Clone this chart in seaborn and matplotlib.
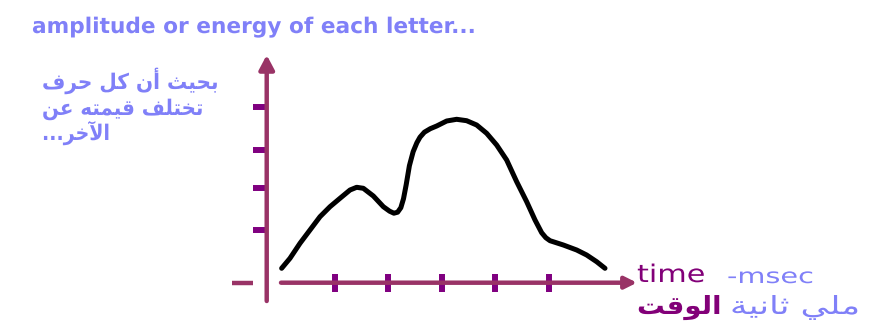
import matplotlib
matplotlib.use("Agg")
import matplotlib.pyplot as plt
import seaborn as sns
from matplotlib import patheffects
from matplotlib.transforms import Affine2D

# ---------------- data ----------------
time_ms = [0.012, 0.168, 0.355, 0.542, 0.729, 0.916, 1.103, 1.290, 1.414, 1.539,
           1.726, 1.913, 2.030, 2.110, 2.180, 2.240, 2.290, 2.340, 2.400, 2.470,
           2.540, 2.598, 2.680, 2.790,
           2.910, 3.097, 3.283, 3.470, 3.657, 3.844, 4.031, 4.218, 4.405, 4.592,
           4.748, 4.872, 4.950, 5.028, 5.277, 5.527, 5.713, 5.900, 6.056]
amplitude = [1.44, 2.44, 3.94, 5.27, 6.60, 7.60, 8.44, 9.27, 9.54, 9.44,
             8.67, 7.60, 7.15, 6.95, 7.05, 7.50, 8.40, 9.80, 11.70, 13.10,
             14.00, 14.55, 15.05, 15.40,
             15.67, 16.17, 16.34, 16.20, 15.77, 14.94, 13.77, 12.27, 10.10, 8.10,
             6.27, 5.00, 4.50, 4.20, 3.77, 3.27, 2.77, 2.10, 1.44]
time_ticks = [1, 2, 3, 4, 5]
amp_ticks = [5.3, 9.5, 13.3, 17.6]

title_text = "amplitude or energy of each letter..."
ar_note_lines = ["بحيث أن كل حرف", "تختلف قيمته عن", "الآخر..."]
x_label_en = "time"
x_unit_en = "-msec"
x_label_ar = "الوقت"
x_unit_ar = "ملي ثانية"

# ---------------- minimal Arabic shaping (contextual forms + RTL order) ----------------
DUAL = {'ب': 0xFE8F, 'ت': 0xFE95, 'ث': 0xFE99, 'ح': 0xFEA1, 'خ': 0xFEA5,
        'ع': 0xFEC9, 'ف': 0xFED1, 'ق': 0xFED5, 'ك': 0xFED9, 'ل': 0xFEDD,
        'م': 0xFEE1, 'ن': 0xFEE5, 'ه': 0xFEE9, 'ي': 0xFEF1}
RIGHT = {'ا': 0xFE8D, 'أ': 0xFE83, 'آ': 0xFE81, 'ة': 0xFE93, 'ر': 0xFEAD, 'و': 0xFEED}
LAMALEF = {'ا': 0xFEFB, 'أ': 0xFEF7, 'آ': 0xFEF5}


def shape_ar(s):
    toks = []
    i = 0
    while i < len(s):
        c = s[i]
        if c == 'ل' and i + 1 < len(s) and s[i + 1] in LAMALEF:
            toks.append(('LA', s[i + 1]))
            i += 2
        else:
            toks.append(('C', c))
            i += 1

    def is_letter(t):
        return t is not None and (t[0] == 'LA' or t[1] in DUAL or t[1] in RIGHT)

    out = []
    for k, t in enumerate(toks):
        prev = toks[k - 1] if k > 0 else None
        nxt = toks[k + 1] if k + 1 < len(toks) else None
        jp = prev is not None and prev[0] == 'C' and prev[1] in DUAL and is_letter(t)
        if t[0] == 'LA':
            out.append(chr(LAMALEF[t[1]] + (1 if jp else 0)))
            continue
        c = t[1]
        if c in DUAL:
            jn = is_letter(nxt)
            off = 3 if (jp and jn) else 1 if jp else 2 if jn else 0
            out.append(chr(DUAL[c] + off))
        elif c in RIGHT:
            out.append(chr(RIGHT[c] + (1 if jp else 0)))
        else:
            out.append(c)
    return ''.join(reversed(out))


class HStretch(patheffects.AbstractPathEffect):
    def __init__(self, sx):
        super().__init__()
        self.sx = sx

    def draw_path(self, renderer, gc, tpath, affine, rgbFace=None):
        renderer.draw_path(gc, tpath, Affine2D().scale(self.sx, 1.0) + affine, rgbFace)


# ---------------- style ----------------
sns.set_style("white")
plt.rcParams['font.family'] = ['DejaVu Sans']

AXIS_C = '#993366'
TICK_C = '#800080'
BLUE_C = '#8080f8'
PURPLE_C = '#820078'

W, H = 870, 331
fig = plt.figure(figsize=(W / 100, H / 100), dpi=100)
fig.patch.set_facecolor('white')
ax = fig.add_axes([0, 0, 1, 1])
ax.set_facecolor('white')

PX_X0, PX_PER_T = 281.0, 53.5
PX_Y0, PX_PER_A = 282.7, 10.0
ax.set_xlim(-PX_X0 / PX_PER_T, (W - PX_X0) / PX_PER_T)
ax.set_ylim((PX_Y0 - H) / PX_PER_A, PX_Y0 / PX_PER_A)

Y_AXIS_T = -0.267
Y_AXIS_SPAN = (-1.83, 22.77)
X_AXIS_SPAN = (0.0, 6.654)
X_STUB = (-0.92, -0.52)

for s in ax.spines.values():
    s.set_visible(False)
ax.spines['bottom'].set_position(('data', 0))
ax.spines['left'].set_position(('data', Y_AXIS_T))

# axes with arrow heads
ax.annotate('', xy=(Y_AXIS_T, Y_AXIS_SPAN[1]), xytext=(Y_AXIS_T, Y_AXIS_SPAN[0]),
            arrowprops=dict(arrowstyle='-|>,head_length=8.5,head_width=4.5', mutation_scale=1,
                            lw=3.2, color=AXIS_C, shrinkA=0, shrinkB=0), zorder=1)
ax.annotate('', xy=(X_AXIS_SPAN[1], 0), xytext=(X_AXIS_SPAN[0], 0),
            arrowprops=dict(arrowstyle='-|>,head_length=7,head_width=3.5', mutation_scale=1,
                            lw=3.2, color=AXIS_C, shrinkA=0, shrinkB=0), zorder=1)
ax.plot(X_STUB, [0, 0], color=AXIS_C, lw=3.2, solid_capstyle='butt', zorder=1)

# ticks
ax.set_xticks(time_ticks)
ax.set_yticks(amp_ticks)
ax.tick_params(axis='x', bottom=True, top=False, direction='inout', length=13.5, width=4.3,
               color=TICK_C, labelbottom=False)
ax.tick_params(axis='y', left=True, right=False, direction='out', length=10, width=4.3,
               color=TICK_C, labelleft=False)
ax.grid(False)

# curve
sns.lineplot(x=time_ms, y=amplitude, sort=False, color='black', linewidth=3.6, ax=ax,
             solid_capstyle='round', solid_joinstyle='round', zorder=4)
ax.set_xlabel('')
ax.set_ylabel('')

# ---------------- texts ----------------
texts = []


def put(s, left_px, base_px, width_px, size, color, weight='normal'):
    t = fig.text(left_px / W, 1 - base_px / H, s, ha='left', va='baseline',
                 fontsize=size, color=color, fontweight=weight, family=['DejaVu Sans'])
    texts.append((t, width_px))


put(title_text, 32, 33, 443, 15.5, BLUE_C, 'bold')
put(shape_ar(ar_note_lines[0]), 42, 89, 176, 15.5, BLUE_C, 'bold')
put(shape_ar(ar_note_lines[1]), 42, 115, 161, 15.5, BLUE_C, 'bold')
put(shape_ar(ar_note_lines[2]), 42, 140, 68, 15.5, BLUE_C, 'bold')
put(x_label_en, 637, 282, 68, 17.5, PURPLE_C)
put(x_unit_en, 727, 283, 87, 15, BLUE_C)
put(shape_ar(x_label_ar), 637, 314, 85, 18, PURPLE_C, 'bold')
put(shape_ar(x_unit_ar), 730, 314, 130, 18, BLUE_C)

renderer = fig.canvas.get_renderer()
for t, wpx in texts:
    w = t.get_window_extent(renderer).width
    if w > 0:
        t.set_path_effects([HStretch(wpx / w)])

fig.savefig('out.png', dpi=100, facecolor='white')
